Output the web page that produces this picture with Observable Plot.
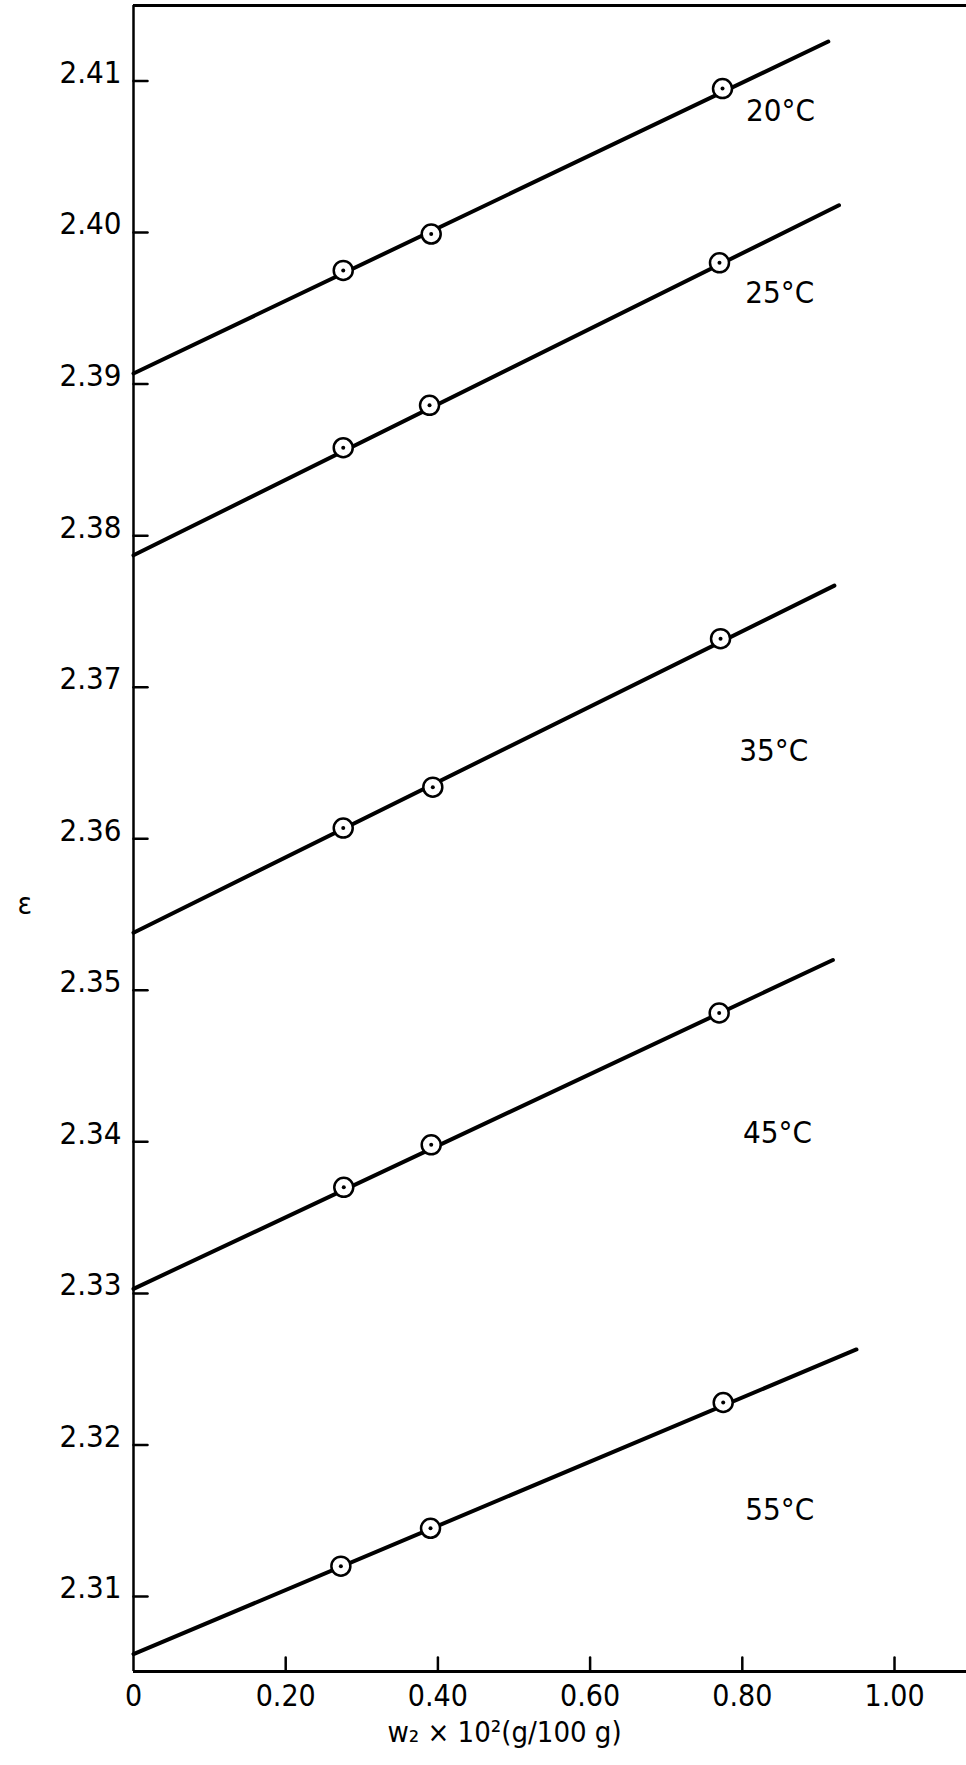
<!DOCTYPE html>
<html>
<head>
<meta charset="utf-8">
<script src="https://cdn.jsdelivr.net/npm/d3@7"></script>
<script src="https://cdn.jsdelivr.net/npm/@observablehq/plot@0.6"></script>
<style>
  html, body { margin: 0; padding: 0; background: #fff; }
  #chart svg { display: block; }
  g[aria-label="x-tick-labels"] text { letter-spacing: 3px; }
  g[aria-label="x-title"] text { letter-spacing: 4px; }
  g[aria-label="series-labels"] text { letter-spacing: 1px; }
</style>
</head>
<body>
<div id="chart"></div>
<script>
// ---- data ----
const temps = ["20°C", "25°C", "35°C", "45°C", "55°C"];
// measured points: w2·10² (g/100 g) and ε
const w2_20 = [0.2756, 0.3912, 0.7740];
const eps_20 = [2.3975, 2.3999, 2.4095];
const w2_25 = [0.2756, 0.3890, 0.7700];
const eps_25 = [2.3858, 2.3886, 2.3980];
const w2_35 = [0.2756, 0.3933, 0.7714];
const eps_35 = [2.3607, 2.3634, 2.3732];
const w2_45 = [0.2763, 0.3912, 0.7696];
const eps_45 = [2.3370, 2.3398, 2.3485];
const w2_55 = [0.2725, 0.3903, 0.7749];
const eps_55 = [2.3120, 2.3145, 2.3228];
// fitted straight lines: start (w2 = 0) and end points
const fitStartW2 = [0, 0, 0, 0, 0];
const fitStartEps = [2.3907, 2.3787, 2.3538, 2.3303, 2.3062];
const fitEndW2 = [0.913, 0.927, 0.921, 0.919, 0.950];
const fitEndEps = [2.4126, 2.4018, 2.3767, 2.3520, 2.3263];
// axis ticks
const xTicks = [0, 0.2, 0.4, 0.6, 0.8, 1.0];
const yTicks = [2.31, 2.32, 2.33, 2.34, 2.35, 2.36, 2.37, 2.38, 2.39, 2.40, 2.41];
const xLabel = "w₂ × 10²(g/100 g)";
const yLabel = "ε";

// ---- tables built from the arrays ----
const allW2 = [w2_20, w2_25, w2_35, w2_45, w2_55];
const allEps = [eps_20, eps_25, eps_35, eps_45, eps_55];
const points = temps.flatMap((t, i) => allW2[i].map((w, j) => ({temp: t, w2: w, eps: allEps[i][j]})));
const fits = temps.flatMap((t, i) => [
  {temp: t, w2: fitStartW2[i], eps: fitStartEps[i]},
  {temp: t, w2: fitEndW2[i], eps: fitEndEps[i]}
]);
// label anchors (annotation placement, in data units)
const labelAnchors = [
  {text: temps[0], w2: 0.805, eps: 2.4080},
  {text: temps[1], w2: 0.804, eps: 2.3960},
  {text: temps[2], w2: 0.796, eps: 2.3658},
  {text: temps[3], w2: 0.801, eps: 2.3406},
  {text: temps[4], w2: 0.804, eps: 2.3157}
];

const yDom = [2.30505, 2.41498];
const xDom = [0, 1.0946];
const font = "'DejaVu Sans Condensed', 'DejaVu Sans', sans-serif";
const tickShape = {draw(context, l) { context.moveTo(0, 0); context.lineTo(0, -l); }};

const chart = Plot.plot({
  width: 966,
  height: 1765,
  marginLeft: 133,
  marginRight: 0,
  marginTop: 5,
  marginBottom: 94,
  x: {domain: xDom, axis: null},
  y: {domain: yDom, axis: null},
  style: {fontFamily: font, fontSize: "30px", color: "black", background: "white"},
  marks: [
    // frame: left axis, bottom axis, top line
    Plot.ruleX([xDom[0]], {stroke: "black", strokeWidth: 2.5}),
    Plot.ruleY([yDom[0]], {stroke: "black", strokeWidth: 3}),
    Plot.ruleY([yDom[1]], {stroke: "black", strokeWidth: 3}),
    // inward ticks
    Plot.vector(yTicks, {y: d => d, frameAnchor: "left", length: 14, rotate: 90, anchor: "start", shape: tickShape, stroke: "black", strokeWidth: 2.5}),
    Plot.vector(xTicks.filter(d => d > 0), {x: d => d, frameAnchor: "bottom", length: 14, rotate: 0, anchor: "start", shape: tickShape, stroke: "black", strokeWidth: 2.5}),
    // tick labels
    Plot.text(yTicks, {y: d => d, text: d => d.toFixed(2), frameAnchor: "left", textAnchor: "end", dx: -12, dy: -8, fontSize: 31, fill: "black", ariaLabel: "y-tick-labels"}),
    Plot.text(xTicks, {x: d => d, text: d => d === 0 ? "0" : d.toFixed(2), frameAnchor: "bottom", lineAnchor: "top", dy: 13, fontSize: 30, fill: "black", ariaLabel: "x-tick-labels"}),
    // fitted lines
    Plot.line(fits, {x: "w2", y: "eps", z: "temp", stroke: "black", strokeWidth: 4}),
    // points: open circle with centre dot
    Plot.dot(points, {x: "w2", y: "eps", r: 9.5, fill: "white", stroke: "black", strokeWidth: 2.5}),
    Plot.dot(points, {x: "w2", y: "eps", r: 2, fill: "black"}),
    // series labels
    Plot.text(labelAnchors, {x: "w2", y: "eps", text: "text", textAnchor: "start", lineAnchor: "middle", fontSize: 31, fill: "black", ariaLabel: "series-labels"}),
    // axis titles
    Plot.text([yLabel], {frameAnchor: "left", y: 2.3557, dx: -116, text: d => d, fontSize: 30, fill: "black", ariaLabel: "y-title"}),
    Plot.text([xLabel], {frameAnchor: "bottom", x: 0.4875, dy: 70, text: d => d, fontSize: 29, fill: "black", ariaLabel: "x-title"})
  ]
});
document.getElementById("chart").appendChild(chart);
</script>
</body>
</html>
